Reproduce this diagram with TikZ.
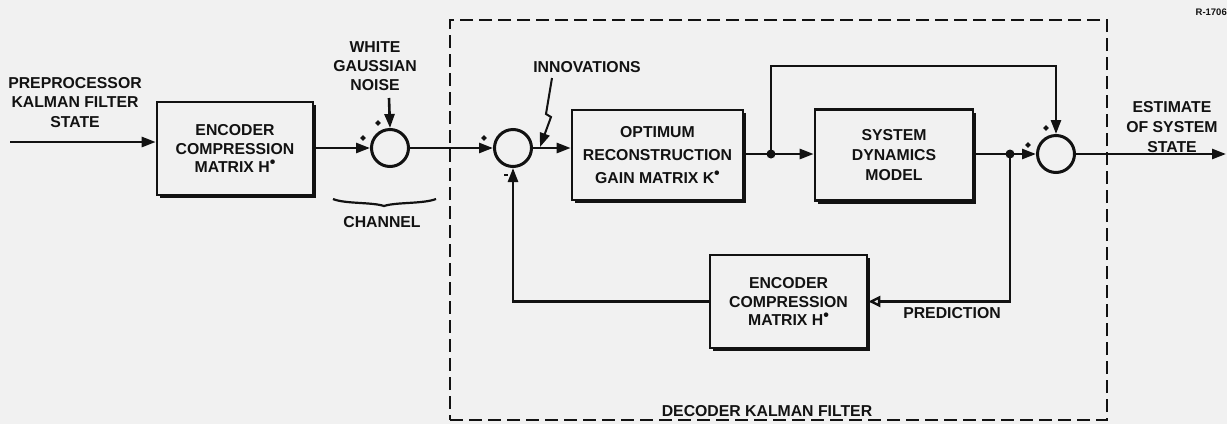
\documentclass[tikz,border=0pt]{standalone}
\usepackage{fontspec}
\setmainfont{Liberation Sans}
\usetikzlibrary{arrows.meta,shadows,calc,shapes.geometric}
\definecolor{bg}{RGB}{241,241,241}
\definecolor{ink}{RGB}{18,18,18}
\newcommand{\lblfont}[1]{\bfseries\fontsize{15.8}{#1}\selectfont}
\newcommand{\supdot}{\smash{\raisebox{0.3em}{\fontsize{16}{16}\selectfont•}}}
\begin{document}
\begin{tikzpicture}[x=1pt,y=-1pt,
  blk/.style={draw=ink, line width=2.6pt, fill=bg, text=ink, align=center, inner sep=0pt,
    drop shadow={shadow xshift=3pt, shadow yshift=-3pt, opacity=1, fill=ink}},
  sum/.style={circle, draw=ink, line width=3pt, minimum size=37pt, inner sep=0pt},
  jdot/.style={circle, fill=ink, minimum size=9pt, inner sep=0pt},
  pm/.style={diamond, fill=ink, minimum size=6pt, inner sep=0pt},
  lbl/.style={text=ink, align=center, inner sep=0pt},
  arr/.style={draw=ink, line width=2.6pt, -{Triangle[length=14pt,width=10pt]}},
  oarr/.style={draw=ink, line width=2.6pt, -{Triangle[open,length=12pt,width=11pt,line width=2.4pt]}},
  frame/.style={draw=ink, line width=2.4pt, dash pattern=on 13pt off 6pt, inner sep=0pt},
  wire/.style={draw=ink, line width=2.6pt}
]
\fill[bg] (0,0) rectangle (1227,424);
\useasboundingbox (0,0) rectangle (1227,424);

% dashed decoder frame
\node[frame, minimum width=657pt, minimum height=400pt] (dk) at (778.5,220) {};

% blocks
\node[blk, minimum width=156pt, minimum height=93pt, font={\lblfont{18.5}}] (b1) at (235,148.5)
  {ENCODER\\COMPRESSION\\MATRIX H\supdot};
\node[blk, minimum width=171pt, minimum height=90pt, font={\lblfont{23}}] (b2) at (657.5,155)
  {OPTIMUM\\RECONSTRUCTION\\GAIN MATRIX K\supdot};
\node[blk, minimum width=158pt, minimum height=91pt, font={\lblfont{20}}] (b3) at (894,155)
  {SYSTEM\\DYNAMICS\\MODEL};
\node[blk, minimum width=157pt, minimum height=93pt, font={\lblfont{18.5}}] (b4) at (788.5,301.5)
  {ENCODER\\COMPRESSION\\MATRIX H\supdot};

% summing junctions
\node[sum] (c1) at (390,148) {};
\node[sum] (c2) at (513,148) {};
\node[sum] (c3) at (1056,154) {};

% junction dots
\node[jdot] (d1) at (771,154) {};
\node[jdot] (d2) at (1010,154) {};

% sign marks
\node[pm] (p1) at (378,123) {};
\node[pm] (p2) at (363,138) {};
\node[pm] (p3) at (484,138) {};
\node[fill=ink, minimum width=4pt, minimum height=2.5pt, inner sep=0pt] (m1) at (506,175) {};
\node[pm] (p4) at (1046,128) {};
\node[pm] (p5) at (1028,145) {};

% labels
\node[lbl, font={\lblfont{19.5}}] (inp) at (75,102.5) {PREPROCESSOR\\KALMAN FILTER\\STATE};
\node[lbl, font={\lblfont{19}}] (noise) at (375,66) {WHITE\\GAUSSIAN\\NOISE};
\node[lbl, font={\lblfont{18}}] (chan) at (382,222) {CHANNEL};
\node[lbl, font={\lblfont{18}}] (inn) at (587,67) {INNOVATIONS};
\node[lbl, font={\lblfont{20}}] (est) at (1172,127) {ESTIMATE\\OF SYSTEM\\STATE};
\node[lbl, font={\lblfont{18}}] (pred) at (952,313) {PREDICTION};
\node[lbl, font={\lblfont{18}}] (dec) at (767,411) {DECODER KALMAN FILTER};
\node[lbl, anchor=east, font={\bfseries\fontsize{9.5}{10}\selectfont}] (rnum) at (1227,12) {R-1706};

% coordinates for free ends
\coordinate (in) at (10,142);
\coordinate (nz) at (389,98);
\coordinate (fftop) at (771,66);
\coordinate (out) at (1226,154);
\coordinate (lz0) at (552,78);
\coordinate (lz1) at (546,114);
\coordinate (lz2) at (551,117);
\coordinate (lz3) at (540,147);

% connectors
\draw[arr] (in) -- (in -| b1.west);
\draw[arr] (b1.east |- c1.west) -- (c1.west);
\draw[arr] (nz) -- (c1.north);
\draw[arr] (c1.east) -- (c2.west);
\draw[arr] (c2.east) -- (c2.east -| b2.west);
\draw[arr, line width=2pt] (lz0) -- (lz1) -- (lz2) -- (lz3);
\draw[wire] (b2.east |- d1) -- (d1.center);
\draw[arr] (d1.center) -- (d1 -| b3.west);
\draw[arr] (d1.center) -- (fftop) -| (c3.north);
\draw[wire] (b3.east |- d2) -- (d2.center);
\draw[arr] (d2.center) -- (c3.west);
\draw[arr] (c3.east) -- (out);
\draw[oarr] (d2.center) |- (b4.east);
\draw[arr] (b4.west) -| (c2.south);

% channel brace
\draw[ink, line width=2.2pt] (333,199) .. controls (345,204) and (372,202) .. (384,206)
  .. controls (396,202) and (423,204) .. (436,199);
\end{tikzpicture}
\end{document}
